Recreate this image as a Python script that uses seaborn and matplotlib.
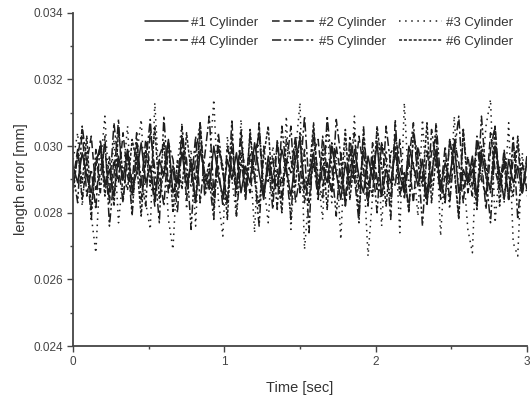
import matplotlib
matplotlib.use("Agg")
import matplotlib.pyplot as plt
from matplotlib.ticker import MultipleLocator
import seaborn as sns
import numpy as np

# length error values in micrometres (divided by 1000 -> mm)
cyl1 = [29.4, 28.9, 29.8, 29.1, 28.6, 29.5, 30.0, 28.8, 29.3, 28.5, 29.7, 29.0, 29.9, 28.7, 29.2, 30.1, 28.9,
        29.4, 28.4, 29.6, 29.1, 30.2, 28.6, 29.0, 29.8, 28.8, 29.5, 28.3, 29.9, 29.2, 28.7, 30.0, 29.1, 28.5,
        29.6, 29.0, 29.8, 28.6, 29.4, 28.9, 30.1, 29.2, 28.4, 29.7, 29.0, 28.8, 29.9, 29.3, 28.5, 29.6, 30.2,
        28.7, 29.1, 29.8, 28.6, 29.4, 28.9, 30.0, 29.2, 28.4, 29.5, 28.8, 29.9, 29.1, 28.6, 29.7, 29.0, 30.1,
        28.5, 29.3, 28.9, 29.8, 29.1, 28.6, 30.0, 29.4, 28.8, 29.6, 28.4, 29.2, 29.9, 28.7, 29.5, 29.0, 30.1,
        28.6, 29.3, 28.9, 29.7, 28.5, 29.8, 29.1, 28.7, 30.0, 29.2, 28.4, 29.6, 28.9, 29.4, 28.6, 29.5]
cyl2 = [29.0, 29.9, 28.4, 29.5, 30.3, 28.7, 29.2, 30.0, 28.3, 29.6, 28.9, 30.4, 29.1, 28.5, 29.8, 28.8, 30.2,
        29.3, 28.2, 29.7, 30.1, 28.6, 29.4, 28.9, 30.3, 28.4, 29.6, 29.0, 30.5, 28.7, 29.3, 28.5, 30.0, 29.2,
        28.3, 29.9, 28.8, 30.2, 29.1, 28.6, 29.7, 30.4, 28.5, 29.4, 28.9, 30.1, 28.4, 29.6, 29.2, 30.3, 28.7,
        29.0, 28.3, 29.8, 30.2, 28.8, 29.5, 28.6, 30.0, 29.1, 28.4, 29.9, 28.9, 30.3, 29.3, 28.2, 29.7, 28.7,
        30.1, 29.0, 28.5, 30.4, 29.4, 28.8, 29.6, 28.3, 30.0, 29.2, 28.6, 29.8, 30.3, 28.4, 29.1, 28.9, 30.2,
        29.5, 28.3, 29.7, 28.8, 30.1, 29.0, 28.5, 30.4, 29.3, 28.7, 29.9, 28.4, 29.6, 30.0, 28.6, 29.2]
cyl3 = [29.6, 30.4, 28.2, 29.8, 27.9, 26.8, 29.4, 30.9, 28.5, 30.2, 27.7, 29.1, 30.6, 28.0, 29.7, 30.8, 28.3,
        27.5, 31.3, 28.8, 30.1, 27.8, 26.9, 29.5, 30.7, 28.1, 29.9, 27.6, 30.5, 28.6, 29.3, 31.4, 28.4, 27.3,
        30.3, 29.0, 27.9, 30.8, 28.7, 29.6, 27.4, 30.6, 28.9, 27.7, 30.0, 29.2, 28.1, 30.9, 27.5, 29.8, 31.3,
        26.9, 28.6, 30.4, 29.1, 27.8, 30.7, 28.3, 29.7, 27.2, 30.2, 28.8, 30.9, 28.0, 29.4, 26.7, 28.5, 30.6,
        27.6, 29.9, 28.2, 30.3, 27.4, 31.3, 28.7, 29.5, 27.9, 30.8, 28.4, 29.1, 30.5, 27.3, 29.6, 28.1, 30.9,
        28.6, 29.3, 27.5, 26.8, 30.2, 28.9, 30.6, 31.4, 27.7, 29.4, 28.3, 30.7, 27.1, 26.7, 29.8, 28.5]
cyl4 = [28.8, 29.7, 30.5, 28.5, 29.3, 28.1, 30.2, 29.0, 28.6, 30.7, 29.4, 28.3, 29.9, 28.9, 30.4, 28.4, 29.5,
        30.8, 28.7, 29.2, 28.2, 30.1, 29.6, 28.5, 30.6, 29.1, 28.8, 30.3, 28.3, 29.7, 30.9, 28.6, 29.4, 28.2,
        30.0, 29.3, 28.7, 30.5, 28.4, 29.8, 29.0, 30.7, 28.5, 29.6, 28.1, 30.2, 28.9, 29.4, 30.6, 28.3, 29.1,
        30.9, 28.8, 29.5, 28.4, 30.3, 29.2, 28.6, 30.8, 29.7, 28.2, 29.3, 30.4, 28.7, 29.9, 28.3, 30.1, 29.0,
        28.5, 30.6, 29.4, 28.8, 30.2, 28.4, 29.6, 30.7, 28.9, 29.1, 28.2, 30.5, 29.5, 28.6, 30.0, 28.3, 29.8,
        30.9, 28.7, 29.2, 28.5, 30.3, 29.6, 28.1, 29.9, 30.6, 28.8, 29.4, 28.4, 30.1, 29.0, 28.6, 29.7]
cyl5 = [29.2, 28.3, 30.6, 29.5, 27.8, 29.9, 28.6, 30.3, 27.6, 29.1, 30.8, 28.4, 29.7, 27.9, 30.1, 29.0, 28.2,
        30.5, 29.3, 27.7, 30.9, 28.8, 29.4, 28.0, 30.2, 29.6, 27.5, 29.8, 30.7, 28.5, 29.0, 27.8, 30.4, 29.2,
        28.3, 30.8, 27.9, 29.5, 28.7, 30.3, 29.1, 27.6, 30.0, 28.9, 29.7, 28.1, 30.6, 29.3, 27.8, 30.2, 28.6,
        29.9, 27.4, 30.5, 29.0, 28.4, 30.9, 29.4, 27.9, 29.8, 28.2, 30.3, 29.1, 27.7, 30.6, 28.7, 29.5, 28.0,
        30.1, 29.6, 27.8, 30.8, 28.5, 29.2, 28.1, 30.4, 29.7, 27.6, 29.9, 28.8, 30.7, 29.0, 28.3, 30.2, 29.4,
        27.9, 30.5, 28.6, 29.3, 28.2, 30.9, 29.1, 27.7, 30.0, 28.9, 29.6, 28.4, 30.3, 27.8, 29.5, 28.7]
cyl6 = [28.6, 29.8, 28.9, 30.3, 28.1, 29.4, 30.0, 28.5, 29.7, 28.2, 30.5, 29.1, 28.7, 30.2, 29.5, 27.9, 29.9,
        28.8, 30.6, 28.4, 29.3, 30.1, 28.0, 29.6, 28.7, 30.4, 29.2, 28.3, 30.7, 28.9, 29.5, 28.1, 30.0, 29.4,
        27.8, 30.3, 28.6, 29.8, 28.4, 30.5, 29.0, 28.2, 29.7, 30.6, 28.5, 29.3, 28.0, 30.2, 29.6, 28.8, 30.4,
        28.3, 29.1, 30.7, 28.6, 29.9, 28.1, 30.1, 29.2, 28.7, 30.5, 28.4, 29.6, 27.9, 30.3, 29.0, 28.5, 30.6,
        29.4, 28.2, 29.8, 30.0, 28.6, 29.2, 28.0, 30.4, 29.5, 28.8, 30.7, 28.3, 29.7, 29.0, 28.4, 30.2, 29.3,
        27.8, 30.5, 28.9, 29.6, 28.1, 30.0, 29.4, 28.6, 30.6, 28.2, 29.8, 29.1, 28.5, 30.3, 28.7, 29.5]

labels = ["#1 Cylinder", "#2 Cylinder", "#3 Cylinder", "#4 Cylinder", "#5 Cylinder", "#6 Cylinder"]
series = [cyl1, cyl2, cyl3, cyl4, cyl5, cyl6]
styles = ["-", (0, (5, 2.5)), (0, (1, 3)), (0, (6, 2, 1.5, 2)), (0, (6, 2, 1.5, 1.5, 1.5, 2)), (0, (2, 1.2))]

sns.set_theme(style="ticks")
plt.rcParams["font.family"] = ["Liberation Sans", "DejaVu Sans"]

fig = plt.figure(figsize=(5.30, 4.01), dpi=100)
ax = fig.add_axes([0.138, 0.137, 0.856, 0.831])

for vals, lab, ls in zip(series, labels, styles):
    t = np.linspace(0, 3, len(vals))
    sns.lineplot(x=t, y=np.array(vals) / 1000.0, ax=ax, color="#1e1e1e", linewidth=1.1,
                 linestyle=ls, label=lab, estimator=None)

ax.set_xlim(0, 3)
ax.set_ylim(0.024, 0.034)
ax.xaxis.set_major_locator(MultipleLocator(1))
ax.xaxis.set_minor_locator(MultipleLocator(0.5))
ax.yaxis.set_major_locator(MultipleLocator(0.002))
ax.yaxis.set_minor_locator(MultipleLocator(0.001))
ax.yaxis.set_major_formatter(plt.FormatStrFormatter("%.3f"))
ax.tick_params(axis="both", which="major", labelsize=8.5, length=4, width=1, color="#444444", labelcolor="#444444")
ax.tick_params(axis="both", which="minor", length=2.5, width=1, color="#444444")
for side in ["left", "bottom"]:
    ax.spines[side].set_linewidth(1.3)
    ax.spines[side].set_color("#444444")
sns.despine(ax=ax)

ax.set_xlabel("Time [sec]", fontsize=10.5, color="#333333", labelpad=9)
ax.set_ylabel("length error [mm]", fontsize=10.5, color="#333333", labelpad=4)

h, l = ax.get_legend_handles_labels()
order = [0, 3, 1, 4, 2, 5]
ax.legend([h[i] for i in order], [l[i] for i in order], ncol=3, loc="upper right",
          bbox_to_anchor=(0.995, 1.025), frameon=False, fontsize=9.5, handlelength=3.3,
          columnspacing=1.0, handletextpad=0.25, labelspacing=0.55, labelcolor="#333333")

fig.savefig("out.png", dpi=100)
